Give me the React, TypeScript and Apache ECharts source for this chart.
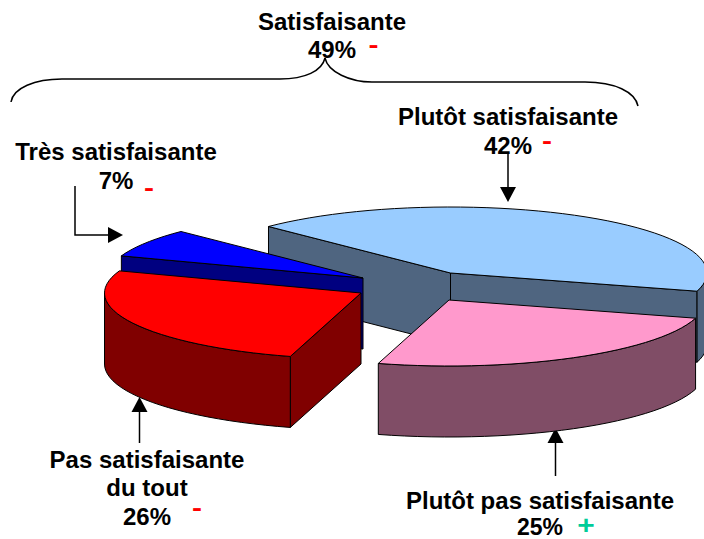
import React, { useEffect, useRef } from "react";
import * as echarts from "echarts";

const categories = ["Plutôt satisfaisante", "Plutôt pas satisfaisante", "Pas satisfaisante du tout", "Très satisfaisante"];
const shares = [42, 25, 26, 7];
const topColors = ["#99CCFF", "#FF99CC", "#FF0000", "#0000FF"];
const sideColors = ["#4F6580", "#804D66", "#800000", "#000080"];
const apexX = [450.5, 449, 361, 363];
const apexY = [273, 300, 293, 278];
const drawOrder = [0, 3, 2, 1];

const RX = 256.5;
const RY = 66;
const DEPTH = 71;
const START_DEG = 16;

function sliceSpan(idx: number) {
  let before = 0;
  for (let i = 0; i < idx; i++) before += shares[i];
  const a0 = START_DEG - shares[0] * 3.6 + before * 3.6;
  return [a0, a0 + shares[idx] * 3.6];
}

function arcPoints(cx: number, cy: number, a0: number, a1: number) {
  const pts: number[][] = [];
  const n = Math.max(4, Math.ceil((a1 - a0) / 3));
  for (let i = 0; i <= n; i++) {
    const t = ((a0 + ((a1 - a0) * i) / n) * Math.PI) / 180;
    pts.push([cx + RX * Math.cos(t), cy + RY * Math.sin(t)]);
  }
  return pts;
}

const sinDeg = (a: number) => Math.sin((a * Math.PI) / 180);

function renderSlice(_params: any, api: any) {
  const idx = api.value(0);
  const [a0, a1] = sliceSpan(idx);
  const cx = apexX[idx];
  const cy = apexY[idx];
  const top = arcPoints(cx, cy, a0, a1);
  const stroke = { stroke: "#000", lineWidth: 1, lineJoin: "round" };
  const side = { ...stroke, fill: sideColors[idx] };
  const wall = (p: number[][]) => ({ type: "polygon", shape: { points: p }, style: side });
  const drop = (p: number[]) => [p[0], p[1] + DEPTH];
  const children: any[] = [];
  const first = top[0];
  const last = top[top.length - 1];
  // radial walls: only those that face the viewer
  if (sinDeg(a0 - 90) > 0) children.push(wall([[cx, cy], first, drop(first), [cx, cy + DEPTH]]));
  if (sinDeg(a1 + 90) > 0) children.push(wall([[cx, cy], last, drop(last), [cx, cy + DEPTH]]));
  // outer rim: only the front half of the ellipse is visible
  for (const k of [0, 360]) {
    const lo = Math.max(a0, k);
    const hi = Math.min(a1, k + 180);
    if (hi > lo) {
      const r = arcPoints(cx, cy, lo, hi);
      children.push(wall([...r, ...r.slice().reverse().map(drop)]));
    }
  }
  children.push({
    type: "polygon",
    shape: { points: [[cx, cy], ...top] },
    style: { ...stroke, fill: topColors[idx] },
  });
  return { type: "group", children };
}

function label(text: string, x: number, y: number, fill = "#000", size = 24, scaleX = 1) {
  return {
    type: "text",
    x,
    y,
    scaleX,
    style: {
      text,
      fill,
      font: `bold ${size}px "Liberation Sans", Arial, sans-serif`,
      textAlign: "center",
      textVerticalAlign: "middle",
    },
  };
}

const line = { stroke: "#000", lineWidth: 1.5, fill: "none" };

function vArrow(x: number, y0: number, y1: number) {
  const dir = y1 > y0 ? 1 : -1;
  return [
    { type: "line", shape: { x1: x, y1: y0, x2: x, y2: y1 - dir * 14 }, style: line },
    {
      type: "polygon",
      shape: { points: [[x - 8, y1 - dir * 15], [x + 8, y1 - dir * 15], [x, y1]] },
      style: { fill: "#000" },
    },
  ];
}

function curve(x1: number, y1: number, cpx1: number, cpy1: number, cpx2: number, cpy2: number, x2: number, y2: number) {
  return { type: "bezierCurve", shape: { x1, y1, cpx1, cpy1, cpx2, cpy2, x2, y2 }, style: line };
}

const labels = [
  label("Satisfaisante", 332, 21),
  label("49%", 332, 49),
  label("-", 373.5, 45, "#FF0000", 24, 1.25),
  label("Plutôt satisfaisante", 508, 116),
  label("42%", 508, 145),
  label("-", 547, 140.5, "#FF0000", 24, 1.25),
  label("Très satisfaisante", 116, 151),
  label("7%", 116, 180),
  label("-", 149, 187.5, "#FF0000", 24, 1.25),
  label("Pas satisfaisante", 147, 459),
  label("du tout", 147, 487),
  label("26%", 147, 516),
  label("-", 197, 507.5, "#FF0000", 24, 1.25),
  label("Plutôt pas satisfaisante", 540, 500),
  label("25%", 540, 527, "#000", 23),
  label("+", 586, 525.5, "#00CC99", 26, 1.15),
];

const annotations = [
  { type: "polyline", shape: { points: [[75, 186], [75, 235], [108, 235]] }, style: line },
  { type: "polygon", shape: { points: [[108, 227], [108, 243], [123, 235]] }, style: { fill: "#000" } },
  ...vArrow(508, 154, 202),
  ...vArrow(139.5, 443, 397),
  ...vArrow(555.5, 476, 428),
  curve(11, 102, 13, 88, 35, 79, 62, 79),
  { type: "line", shape: { x1: 62, y1: 79, x2: 280, y2: 79 }, style: line },
  curve(280, 79, 305, 79, 322, 71, 325, 58),
  curve(325, 58, 328, 72, 350, 82, 372, 82),
  { type: "line", shape: { x1: 372, y1: 82, x2: 585, y2: 82 }, style: line },
  curve(585, 82, 615, 82, 635, 92, 638, 106),
];

export default function App() {
  const ref = useRef<HTMLDivElement>(null);
  useEffect(() => {
    const chart = echarts.init(ref.current!, undefined, { renderer: "svg" });
    chart.setOption({
      animation: false,
      backgroundColor: "#fff",
      series: drawOrder.map((i, order) => ({
        type: "custom",
        name: categories[i],
        coordinateSystem: "none",
        silent: true,
        data: [[i, shares[i]]],
        renderItem: renderSlice,
        z: 2 + order,
      })),
      graphic: { elements: [...labels, ...annotations] },
    });
    return () => chart.dispose();
  }, []);
  return <div ref={ref} style={{ width: 704, height: 539, position: "absolute", left: 0, top: 0 }} />;
}
